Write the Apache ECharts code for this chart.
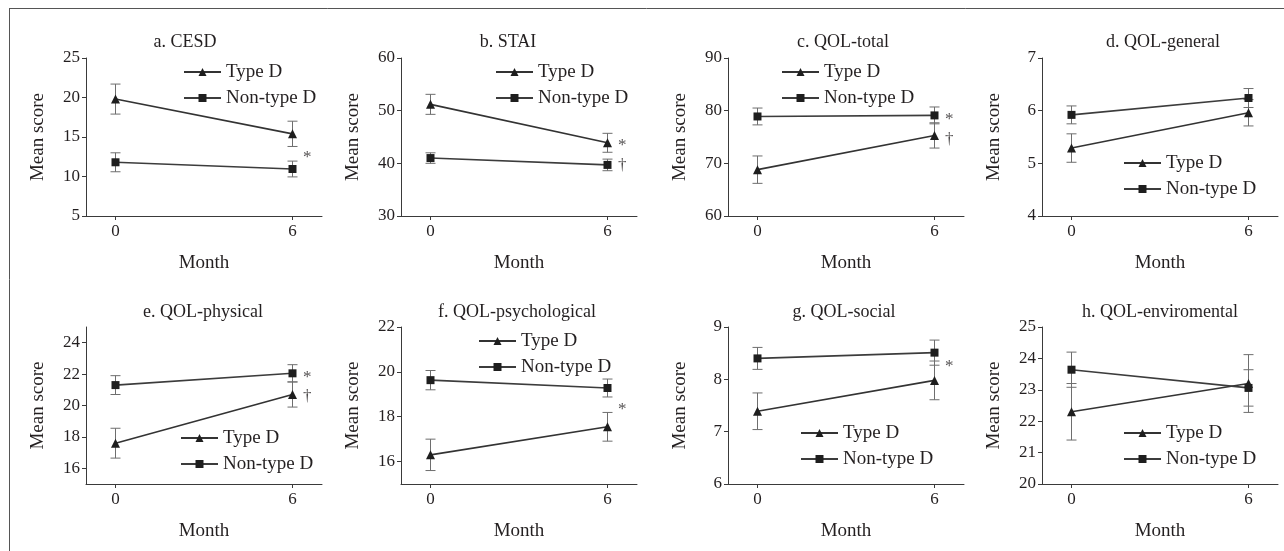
<!DOCTYPE html>
<html>
<head>
<meta charset="utf-8">
<script src="https://cdn.jsdelivr.net/npm/echarts@6/dist/echarts.min.js"></script>
<style>
  html, body { margin: 0; padding: 0; background: #fff; }
  #chart { width: 1284px; height: 551px; }
</style>
</head>
<body>
<div id="chart"></div>
<script>
// chart values
const panelTitles = ["a. CESD", "b. STAI", "c. QOL-total", "d. QOL-general",
  "e. QOL-physical", "f. QOL-psychological", "g. QOL-social", "h. QOL-enviromental"];
const months = [0, 6];
const typeD = [[19.8, 15.4], [51.2, 43.9], [68.8, 75.3], [5.29, 5.96],
  [17.6, 20.7], [16.3, 17.55], [7.39, 7.98], [22.3, 23.2]];
const typeDErr = [[1.9, 1.6], [1.9, 1.8], [2.6, 2.4], [0.27, 0.25],
  [0.95, 0.8], [0.7, 0.64], [0.35, 0.37], [0.9, 0.92]];
const nonTypeD = [[11.8, 10.95], [41.0, 39.7], [78.9, 79.1], [5.92, 6.24],
  [21.3, 22.05], [19.63, 19.28], [8.4, 8.51], [23.64, 23.06]];
const nonTypeDErr = [[1.2, 1.0], [1.0, 1.1], [1.6, 1.6], [0.17, 0.18],
  [0.6, 0.55], [0.43, 0.4], [0.21, 0.24], [0.56, 0.58]];
const yRange = [[5, 25], [30, 60], [60, 90], [4, 7], [15, 25], [15, 22], [6, 9], [20, 25]];
const yTicks = [[5, 10, 15, 20, 25], [30, 40, 50, 60], [60, 70, 80, 90], [4, 5, 6, 7],
  [16, 18, 20, 22, 24], [16, 18, 20, 22], [6, 7, 8, 9], [20, 21, 22, 23, 24, 25]];
// significance marks: [label, month, score]
const sigMarks = [
  [["*", 6.5, 12.4]],
  [["*", 6.5, 43.4], ["\u2020", 6.5, 39.5]],
  [["*", 6.5, 78.4], ["\u2020", 6.5, 74.6]],
  [],
  [["*", 6.5, 21.8], ["\u2020", 6.5, 20.6]],
  [["*", 6.5, 18.3]],
  [["*", 6.5, 8.24]],
  []
];

// layout
const colLeft = [86, 401, 728, 1042];
const rowTop = [58, 327];
const rowH = [158, 157];
const titleX = [185, 508, 843, 1163, 203, 517, 844, 1160];
const titleY = [42, 312];
const legendPos = [[183, 72], [495, 72], [781, 72], [1123, 163],
  [180, 438], [478, 341], [800, 433], [1123, 433]];

const font = "Liberation Serif";
const ink = "#231f20";
const axisColor = "#3a3a3a";

function renderErr(params, api) {
  const x = api.value(0);
  const lo = api.coord([x, api.value(1)]);
  const hi = api.coord([x, api.value(2)]);
  const w = 5;
  const style = { stroke: "#6e6e6e", lineWidth: 1 };
  return {
    type: "group",
    children: [
      { type: "line", shape: { x1: lo[0], y1: lo[1], x2: hi[0], y2: hi[1] }, style: style },
      { type: "line", shape: { x1: lo[0] - w, y1: lo[1], x2: lo[0] + w, y2: lo[1] }, style: style },
      { type: "line", shape: { x1: hi[0] - w, y1: hi[1], x2: hi[0] + w, y2: hi[1] }, style: style }
    ]
  };
}

const grid = [], xAxis = [], yAxis = [], series = [], title = [], legend = [];

panelTitles.forEach((name, i) => {
  const col = i % 4, row = Math.floor(i / 4);
  grid.push({ left: colLeft[col], top: rowTop[row], width: 236, height: rowH[row] });

  title.push({
    text: name, left: titleX[i], top: titleY[row] - 9, padding: 0, textAlign: "center",
    textStyle: { fontFamily: font, fontSize: 18, fontWeight: "normal", color: ink }
  });

  xAxis.push({
    gridIndex: i, type: "value", min: -1, max: 7,
    name: "Month", nameLocation: "middle", nameGap: 38,
    nameTextStyle: { fontFamily: font, fontSize: 19, color: ink },
    axisLine: { onZero: false, lineStyle: { color: axisColor, width: 1 } },
    axisTick: { customValues: months, length: 4, lineStyle: { color: axisColor } },
    axisLabel: { customValues: months, margin: 7, fontFamily: font, fontSize: 17, color: ink },
    splitLine: { show: false }
  });

  yAxis.push({
    gridIndex: i, type: "value", min: yRange[i][0], max: yRange[i][1],
    name: "Mean score", nameLocation: "middle", nameGap: 38,
    nameTextStyle: { fontFamily: font, fontSize: 19, color: ink },
    axisLine: { show: true, onZero: false, lineStyle: { color: axisColor, width: 1 } },
    axisTick: { show: true, customValues: yTicks[i], length: 4, lineStyle: { color: axisColor } },
    axisLabel: { customValues: yTicks[i], margin: 6, fontFamily: font, fontSize: 17, color: ink },
    splitLine: { show: false }
  });

  series.push({
    type: "custom", xAxisIndex: i, yAxisIndex: i, z: 1, silent: true,
    renderItem: renderErr,
    data: months.map((m, k) => [m, typeD[i][k] - typeDErr[i][k], typeD[i][k] + typeDErr[i][k]])
  });
  series.push({
    type: "custom", xAxisIndex: i, yAxisIndex: i, z: 1, silent: true,
    renderItem: renderErr,
    data: months.map((m, k) => [m, nonTypeD[i][k] - nonTypeDErr[i][k], nonTypeD[i][k] + nonTypeDErr[i][k]])
  });
  series.push({
    name: "Type D", type: "line", xAxisIndex: i, yAxisIndex: i, z: 3,
    symbol: "triangle", symbolSize: 9, showSymbol: true,
    itemStyle: { color: "#1e1e1e" },
    lineStyle: { color: "#333", width: 1.6 },
    data: months.map((m, k) => [m, typeD[i][k]])
  });
  series.push({
    name: "Non-type D", type: "line", xAxisIndex: i, yAxisIndex: i, z: 3,
    symbol: "rect", symbolSize: 8, showSymbol: true,
    itemStyle: { color: "#1e1e1e" },
    lineStyle: { color: "#3c3c3c", width: 1.6 },
    data: months.map((m, k) => [m, nonTypeD[i][k]])
  });
  series.push({
    type: "scatter", xAxisIndex: i, yAxisIndex: i, symbolSize: 0, silent: true,
    label: {
      show: true, position: "inside", formatter: p => p.value[2],
      fontFamily: font, fontSize: 17, color: ink
    },
    data: sigMarks[i].map(s => [s[1], s[2], s[0]])
  });

  legend.push({
    data: ["Type D", "Non-type D"], orient: "vertical", selectedMode: false,
    left: legendPos[i][0], top: legendPos[i][1] - 10, padding: 0,
    itemWidth: 37, itemHeight: 10, itemGap: 6,
    textStyle: { fontFamily: font, fontSize: 19, color: ink, lineHeight: 20 }
  });
});

const chart = echarts.init(document.getElementById("chart"), null, { renderer: "canvas" });
chart.setOption({
  animation: false,
  backgroundColor: "#fff",
  title: title,
  legend: legend,
  grid: grid,
  xAxis: xAxis,
  yAxis: yAxis,
  series: series,
  graphic: [
    { type: "line", shape: { x1: 9, y1: 8.5, x2: 1284, y2: 8.5 }, style: { stroke: "#555", lineWidth: 1 } },
    { type: "line", shape: { x1: 9.5, y1: 8, x2: 9.5, y2: 551 }, style: { stroke: "#555", lineWidth: 1 } }
  ]
});
window.addEventListener("resize", () => chart.resize());
</script>
</body>
</html>
